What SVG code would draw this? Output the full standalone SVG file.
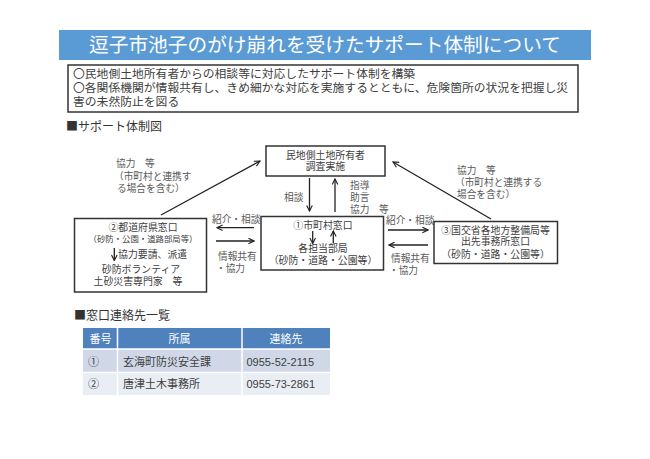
<svg xmlns="http://www.w3.org/2000/svg" width="650" height="459" viewBox="0 0 650 459">
<defs>
<marker id="ah" viewBox="0 0 10 10" refX="9" refY="5" markerWidth="7" markerHeight="7" markerUnits="userSpaceOnUse" orient="auto"><path d="M1,1 L9,5 L1,9" fill="none" stroke="#222" stroke-width="1.6"/></marker>
<style>
text{font-family:"Noto Sans CJK JP","Noto Sans CJK SC",sans-serif;}
.t{font-size:19.7px;fill:#fff;text-anchor:middle;}
.b{font-size:11.8px;fill:#404040;}
.h{font-size:12px;fill:#333;}
.n{font-size:9.9px;fill:#404040;text-anchor:middle;}
.s{font-size:8.4px;fill:#404040;text-anchor:middle;}
.l{font-size:9.7px;fill:#595959;}
.box{fill:#fff;stroke:#333;stroke-width:1.5;}
.ar{stroke:#222;stroke-width:1.3;fill:none;marker-end:url(#ah);}
.th{font-size:11px;fill:#fff;text-anchor:middle;}
.td{font-size:11px;fill:#404040;}
.num{font-family:"Liberation Sans","Noto Sans CJK JP",sans-serif;font-size:11px;fill:#404040;}
</style>
</defs>
<rect width="650" height="459" fill="#fff"/>
<g id="title">
<rect x="59" y="30" width="532" height="30" fill="#5B9BD5"/>
<text class="t" x="325" y="52">逗子市池子のがけ崩れを受けたサポート体制について</text>
</g>
<g id="summary">
<rect x="68" y="65" width="510" height="47" fill="#fff" stroke="#333" stroke-width="1.5"/>
<text class="b" x="73" y="77.5">〇民地側土地所有者からの相談等に対応したサポート体制を構築</text>
<text class="b" x="73" y="91.8">〇各関係機関が情報共有し、きめ細かな対応を実施するとともに、危険箇所の状況を把握し災</text>
<text class="b" x="73" y="106">害の未然防止を図る</text>
</g>
<text class="h" x="66" y="131">■サポート体制図</text>
<g id="connectors">
<line class="ar" x1="309.5" y1="178" x2="309.5" y2="211"/>
<line class="ar" x1="335" y1="212" x2="335" y2="179"/>
<line class="ar" x1="161" y1="215" x2="260" y2="161"/>
<line class="ar" x1="491" y1="219" x2="393" y2="162"/>
<line class="ar" x1="254" y1="227.7" x2="217" y2="227.7"/>
<line class="ar" x1="216" y1="241" x2="254" y2="241"/>
<line class="ar" x1="388" y1="230" x2="428" y2="230"/>
<line class="ar" x1="428" y1="245" x2="389" y2="245"/>
<text class="l" x="284" y="200.5">相談</text>
<text class="l" x="350" y="189">指導</text>
<text class="l" x="350" y="201">助言</text>
<text class="l" x="350" y="212.5">協力　等</text>
<text class="l" x="116" y="167">協力　等</text>
<text class="l" x="114" y="179.5">（市町村と連携す</text>
<text class="l" x="117" y="191.5">る場合を含む）</text>
<text class="l" x="457" y="173.5">協力　等</text>
<text class="l" x="455" y="186">（市町村と連携する</text>
<text class="l" x="457" y="197.5">場合を含む）</text>
<text class="l" x="212" y="222.5">紹介・相談</text>
<text class="l" x="218" y="260">情報共有</text>
<text class="l" x="216" y="272">・協力</text>
<text class="l" x="386" y="223.5">紹介・相談</text>
<text class="l" x="391" y="262">情報共有</text>
<text class="l" x="389" y="274">・協力</text>
</g>
<g id="owner">
<rect class="box" x="266" y="146" width="119" height="30"/>
<text class="n" x="325.5" y="158.8">民地側土地所有者</text>
<text class="n" x="325.5" y="170">調査実施</text>
</g>
<g id="prefecture">
<rect class="box" x="74.5" y="218.5" width="132" height="73.5"/>
<text class="n" x="143" y="231.3">②都道府県窓口</text>
<text class="s" x="143" y="241.5">（砂防・公園・道路部局等）</text>
<line class="ar" x1="114.3" y1="248" x2="114.3" y2="260.5"/>
<text class="n" x="118" y="257.5" style="text-anchor:start">協力要請、派遣</text>
<text class="n" x="141" y="272.5">砂防ボランティア</text>
<text class="n" x="138" y="284.5">土砂災害専門家　等</text>
</g>
<g id="municipality">
<rect class="box" x="261" y="216.5" width="122.5" height="53.5"/>
<text class="n" x="323" y="229.3">①市町村窓口</text>
<line class="ar" x1="312.7" y1="231" x2="312.7" y2="243.5"/>
<line class="ar" x1="333.3" y1="243.5" x2="333.3" y2="231"/>
<text class="n" x="323" y="252">各担当部局</text>
<text class="n" x="323" y="263.8">（砂防・道路・公園等）</text>
</g>
<g id="mlit">
<rect class="box" x="434" y="221.5" width="123.5" height="42"/>
<text class="n" x="495.5" y="233.8">③国交省各地方整備局等</text>
<text class="n" x="495.5" y="245">出先事務所窓口</text>
<text class="n" x="495.5" y="258">（砂防・道路・公園等）</text>
</g>
<text class="h" x="74" y="320">■窓口連絡先一覧</text>
<g id="table">
<rect x="83" y="328" width="247" height="21" fill="#4F81BD"/>
<rect x="83" y="349" width="247" height="23.5" fill="#D0D8E8"/>
<rect x="83" y="372.5" width="247" height="22.5" fill="#E9EDF4"/>
<g stroke="#fff" stroke-width="1.5">
<line x1="117.5" y1="328" x2="117.5" y2="395"/>
<line x1="242" y1="328" x2="242" y2="395"/>
<line x1="83" y1="349" x2="330" y2="349"/>
<line x1="83" y1="372.5" x2="330" y2="372.5"/>
</g>
<text class="th" x="100.5" y="342.5">番号</text>
<text class="th" x="179.5" y="342.5">所属</text>
<text class="th" x="286" y="342.5">連絡先</text>
<text class="td" x="88" y="365.5">①</text>
<text class="td" x="123" y="365.5">玄海町防災安全課</text>
<text class="num" x="246.5" y="365.5">0955-52-2115</text>
<text class="td" x="88" y="387.5">②</text>
<text class="td" x="123" y="387.5">唐津土木事務所</text>
<text class="num" x="246.5" y="387.5">0955-73-2861</text>
</g>
</svg>
